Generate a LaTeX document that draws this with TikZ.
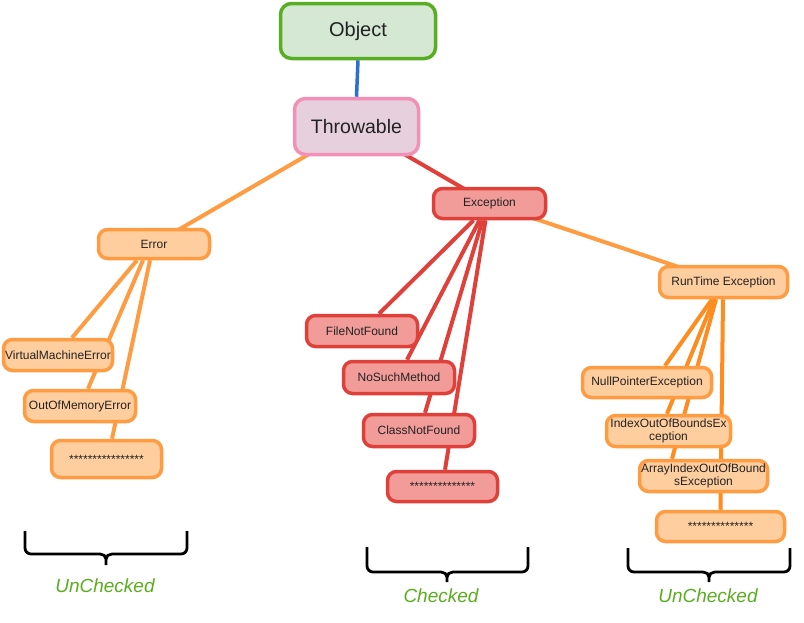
\documentclass[tikz,border=0pt]{standalone}
\usepackage{fontspec}
\setmainfont{Liberation Sans}
\usetikzlibrary{calc,backgrounds}
\definecolor{objfill}{HTML}{D5E8D4}
\definecolor{objdraw}{HTML}{58AE22}
\definecolor{thrfill}{HTML}{E6D0DE}
\definecolor{thrdraw}{HTML}{F290B5}
\definecolor{excfill}{HTML}{F19C99}
\definecolor{excdraw}{HTML}{E0403A}
\definecolor{orfill}{HTML}{FFCE9F}
\definecolor{ordraw}{HTML}{FF9C42}
\definecolor{ordark}{HTML}{FF8C1F}
\definecolor{bluel}{HTML}{2A6FD1}
\definecolor{greentxt}{HTML}{5AAD1E}
\definecolor{txt}{HTML}{222222}
\tikzset{
  box/.style={rounded corners=9pt, line width=3.5pt, inner sep=0pt, align=center,
    text=txt, font=\fontsize{12}{13.5}\selectfont},
  bigbox/.style={box, rounded corners=11pt, font=\fontsize{20}{22}\selectfont},
  orbox/.style={box, fill=orfill, draw=ordraw},
  redbox/.style={box, fill=excfill, draw=excdraw},
  orline/.style={draw=ordraw, line width=4pt},
  orlinedark/.style={draw=ordark, line width=4pt},
  redline/.style={draw=excdraw, line width=4pt},
  bracel/.style={draw=black, line width=2.8pt},
  lbl/.style={text=greentxt, font=\fontsize{19}{21}\selectfont\itshape, inner sep=0pt}
}
\begin{document}
\begin{tikzpicture}[x=1pt,y=-1pt]
\useasboundingbox (0,0) rectangle (804,622);
% nodes
\node[bigbox, fill=objfill, draw=objdraw, minimum width=155pt, minimum height=55pt] (obj) at (358,31) {Object};
\node[bigbox, fill=thrfill, draw=thrdraw, minimum width=124pt, minimum height=56pt, font=\fontsize{19.5}{22}\selectfont] (thr) at (356.5,126.5) {Throwable};
\node[redbox, minimum width=112pt, minimum height=30pt] (exc) at (489.5,203.5) {Exception};
\node[orbox, minimum width=111pt, minimum height=29pt] (err) at (154,244) {Error};
\node[orbox, minimum width=128pt, minimum height=31pt] (rt) at (723.5,282) {RunTime Exception};
\node[orbox, minimum width=109pt, minimum height=31pt] (vme) at (58,355) {VirtualMachineError};
\node[orbox, minimum width=111pt, minimum height=31pt] (oom) at (80,406) {OutOfMemoryError};
\node[orbox, minimum width=110pt, minimum height=37pt] (errs) at (106.5,459) {****************};
\node[redbox, minimum width=111pt, minimum height=31pt] (fnf) at (362,331) {FileNotFound};
\node[redbox, minimum width=111pt, minimum height=32pt] (nsm) at (399,377.5) {NoSuchMethod};
\node[redbox, minimum width=111pt, minimum height=32pt] (cnf) at (419,430.5) {ClassNotFound};
\node[redbox, minimum width=110pt, minimum height=30pt] (excs) at (442.5,486.5) {**************};
\node[orbox, minimum width=129pt, minimum height=30pt] (npe) at (647,382.5) {NullPointerException};
\node[orbox, minimum width=124pt, minimum height=31pt] (ioobe) at (668.5,431) {IndexOutOfBoundsEx\\ception};
\node[orbox, minimum width=128pt, minimum height=31pt] (aioobe) at (703.5,476) {ArrayIndexOutOfBound\\sException};
\node[orbox, minimum width=128pt, minimum height=30pt] (rts) at (720.5,526.5) {**************};
% connectors
\begin{scope}[on background layer]
\draw[draw=bluel, line width=3.5pt] (obj.south) -- (thr.north);
\draw[orline] (thr.center) -- (err.center);
\draw[redline] (thr.center) -- (exc.center);
\draw[orline] (exc.center) -- (rt.center);
\draw[orline] ($(err.south)+(-17,0)$) -- ($(vme.north)+(14,0)$);
\draw[orline] ($(err.south)+(-11,0)$) -- ($(oom.north)+(8,0)$);
\draw[orline] ($(err.south)+(-4,0)$) -- ($(errs.north)+(5.5,0)$);
\draw[redline] ($(exc.south)+(-16,0)$) -- ($(fnf.north)+(17,0)$);
\draw[redline] ($(exc.south)+(-10,0)$) -- ($(nsm.north)+(8,0)$);
\draw[redline] ($(exc.south)+(-7,0)$) -- ($(cnf.north)+(6,0)$);
\draw[redline] ($(exc.south)+(-4,0)$) -- ($(excs.north)+(2.5,0)$);
\draw[orlinedark] ($(rt.south)+(-11.5,0)$) -- ($(npe.north)+(18,0)$);
\draw[orlinedark] ($(rt.south)+(-9.5,0)$) -- ($(ioobe.north)+(-1.5,0)$);
\draw[orlinedark] ($(rt.south)+(-7.5,0)$) -- ($(aioobe.north)+(-31.5,0)$);
\draw[orlinedark] ($(rt.south)+(-0.5,0)$) -- ($(rts.north)+(0,0)$);
\end{scope}
% braces
\draw[bracel] (25,531) -- (25,548) to[out=-90,in=180] (31,554) -- (100,554) to[out=0,in=90] (106,559) -- (106,565);
\draw[bracel] (187,531) -- (187,548) to[out=-90,in=0] (181,554) -- (112,554) to[out=180,in=90] (106,559);
\draw[bracel] (367,547) -- (367,566) to[out=-90,in=180] (373,572) -- (441,572) to[out=0,in=90] (447,577) -- (447,582);
\draw[bracel] (528,547) -- (528,566) to[out=-90,in=0] (522,572) -- (453,572) to[out=180,in=90] (447,577);
\draw[bracel] (628,548) -- (628,566) to[out=-90,in=180] (634,572) -- (703,572) to[out=0,in=90] (709,577) -- (709,582);
\draw[bracel] (790,548) -- (790,566) to[out=-90,in=0] (784,572) -- (715,572) to[out=180,in=90] (709,577);
% labels
\node[lbl] (l1) at (105,586) {UnChecked};
\node[lbl] (l2) at (441,596) {Checked};
\node[lbl] (l3) at (708,596) {UnChecked};
\end{tikzpicture}
\end{document}
